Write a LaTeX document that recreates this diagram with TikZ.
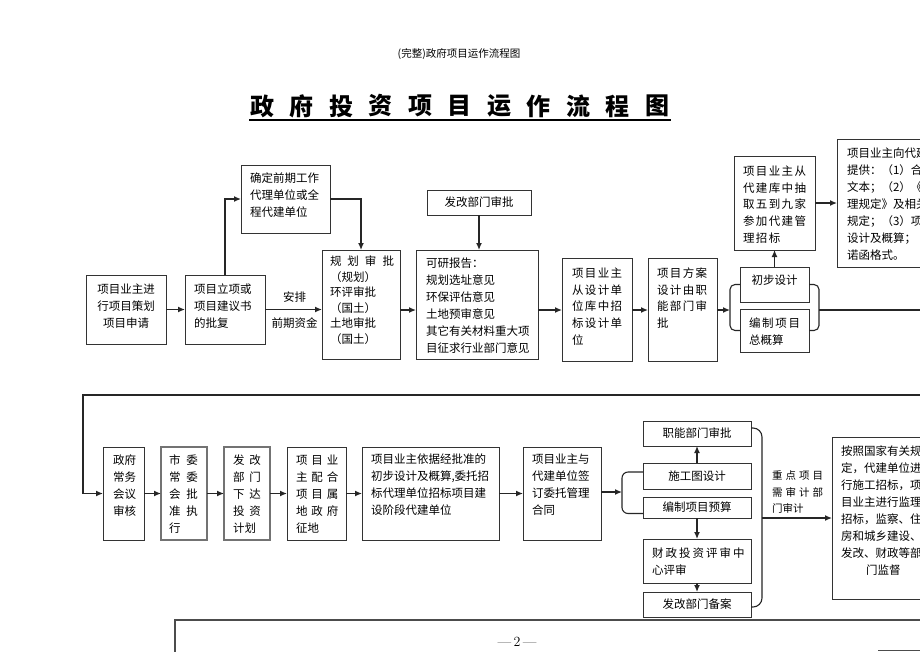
\documentclass[tikz,border=0pt]{standalone}
\usepackage{fontspec}
\newfontfamily\cjk{Noto Sans CJK SC}
\newfontfamily\cjkw{Noto Sans CJK SC}[LetterSpace=12]
\usetikzlibrary{arrows.meta,calc}
\newcommand\hsp[1]{\hspace*{#1pt}}
\newcommand\bx[6][]{\pgfmathsetmacro\bxw{#5-#3}\pgfmathsetmacro\bxh{#6-#4}%
  \node[box,#1,minimum width=\bxw pt,minimum height=\bxh pt,anchor=north west] (#2) at (#3,#4) {};}
\newcommand\tx[5][]{\node[txt,#1] (#2) at (#3,#4) {#5};}
\begin{document}
\begin{tikzpicture}[x=1pt,y=-1pt,
  box/.style={draw=black!80, line width=1pt, inner sep=0pt, outer sep=0pt},
  txt/.style={inner sep=0pt, outer sep=0pt, align=left, anchor=north west, font=\cjk\fontsize{11.5}{17}\selectfont},
  ctxt/.style={inner sep=0pt, outer sep=0pt, align=center, font=\cjk\fontsize{11.5}{17}\selectfont},
  arr/.style={draw=black!85, line width=1.3pt, -{Latex[length=7pt,width=6pt]}},
  ln/.style={draw=black!85, line width=1.1pt},
  grey/.style={draw=black!55, line width=1.6pt}
]
\useasboundingbox (0,0) rectangle (920,651);
\clip (0,0) rectangle (920,651);
\fill[white] (0,0) rectangle (920,651);

% header and title
\node[inner sep=0pt, font=\cjk\fontsize{10.5}{12}\selectfont] (hd) at (459,54) {(完整)政府项目运作流程图};
\foreach \c [count=\i] in {政,府,投,资,项,目,运,作,流,程,图}
  \node[inner sep=0pt, font=\cjk\bfseries\fontsize{24}{24}\selectfont] (t\i) at ({262.4+39.5*(\i-1)},106) {\c};
\draw[line width=1.8pt] (249,120) -- (671,120);

% ---------- row 1 boxes ----------
\bx{A}{86}{275}{166}{344}
\node[ctxt] (At) at ([yshift=3.5pt]A.center) {项目业主进\\行项目策划\\项目申请};
\bx{B}{185}{275}{265}{344}
\tx{Bt}{194}{283.7}{项目立项或\\项目建议书\\的批复}
\bx{C}{241}{165}{330}{233}
\tx{Ct}{250}{172.7}{确定前期工作\\代理单位或全\\程代建单位}
\bx{D}{322}{250}{400}{359}
\tx[font=\cjk\fontsize{11.5}{15.6}\selectfont]{Dt}{330}{255.7}{规\hsp6划\hsp6审\hsp6批\\（规划）\\环评审批\\（国土）\\土地审批\\（国土）}
\bx{E}{416}{250}{538}{359}
\tx{Et}{426}{257.7}{可研报告：\\规划选址意见\\环保评估意见\\土地预审意见\\其它有关材料重大项\\目征求行业部门意见}
\bx{FG}{427}{190}{531}{215}
\node[ctxt] (FGt) at (FG.center) {发改部门审批};
\bx{F}{562}{258}{632}{361}
\tx[font=\cjkw\fontsize{11.5}{16.7}\selectfont]{Ft}{572}{267.7}{项目业主\\从设计单\\位库中招\\标设计单\\位}
\bx{G}{648}{258}{717}{361}
\tx[font=\cjkw\fontsize{11.5}{16.7}\selectfont]{Gt}{657}{267.7}{项目方案\\设计由职\\能部门审\\批}
\bx{H}{740}{267}{809}{302}
\node[ctxt] (Ht) at ([yshift=4pt]H.center) {初步设计};
\bx{I}{740}{309}{809}{352}
\tx{It}{749}{317.7}{编\hsp{1.7}制\hsp{1.7}项\hsp{1.7}目\\总概算}
\bx{J}{734}{156}{815}{250}
\tx[font=\cjkw\fontsize{11.5}{16.7}\selectfont]{Jt}{743}{165.7}{项目业主从\\代建库中抽\\取五到九家\\参加代建管\\理招标}
\bx{K}{837}{139}{1000}{267}
\tx{Kt}{847}{147.7}{项目业主向代建\\提供：（1）合同\\文本；（2）《XX\\理规定》及相关\\规定；（3）项目\\设计及概算；（4\\诺函格式。}

% ---------- row 1 connectors ----------
\coordinate (r1) at (0,310);
\coordinate (b1l) at (730,310);
\coordinate (b1r) at (819,310);
\draw[arr] (A.east) -- (B.west);
\draw[arr] (B.north) |- (C.west);
\draw[arr] (C.east) -| (D.north);
\draw[arr] (B.east) -- (B.east -| D.west);
\node[ctxt] (lb1) at (294.5,297) {安排};
\node[ctxt] (lb2) at (294.5,323) {前期资金};
\draw[arr] (D.east |- r1) -- (E.west |- r1);
\draw[arr] (FG.south) -- (FG.south |- E.north);
\draw[arr] (E.east |- r1) -- (F.west |- r1);
\draw[arr] (F.east |- r1) -- (G.west |- r1);
\draw[arr] (G.east |- r1) -- (b1l);
\draw[ln, rounded corners=5pt] (H.west) -| (b1l) |- (I.west);
\draw[ln, rounded corners=5pt] (H.east) -| (b1r) |- (I.east);
\draw[arr] (H.north) -- (J.south);
\draw[arr] (J.east) -- (J.east -| K.west);

% ---------- row 2 boxes ----------
\bx{L}{103}{447}{144}{540}
\tx{Lt}{113}{454.7}{政府\\常务\\会议\\审核}
\bx[grey]{M}{161}{447}{207}{540}
\tx{Mt}{169}{454.7}{市\hsp6委\\常\hsp6委\\会\hsp6批\\准\hsp6执\\行}
\bx[grey]{N}{224}{447}{270}{540}
\tx{Nt}{233}{454.7}{发\hsp5改\\部\hsp5门\\下\hsp5达\\投\hsp5资\\计划}
\bx{O}{287}{447}{346}{540}
\tx{Ot}{296}{454.7}{项\hsp4目\hsp4业\\主\hsp4配\hsp4合\\项\hsp4目\hsp4属\\地\hsp4政\hsp4府\\征地}
\bx{P}{362}{447}{499}{540}
\tx{Pt}{371}{453.7}{项目业主依据经批准的\\初步设计及概算,委托招\\标代理单位招标项目建\\设阶段代建单位}
\bx{Q}{523}{447}{601}{540}
\tx{Qt}{532}{453.7}{项目业主与\\代建单位签\\订委托管理\\合同}
\bx{ZN}{643}{421}{751}{446}
\node[ctxt] (ZNt) at (ZN.center) {职能部门审批};
\bx{SG}{643}{463}{751}{489}
\node[ctxt] (SGt) at (SG.center) {施工图设计};
\bx{YS}{643}{497}{751}{518}
\node[ctxt] (YSt) at (YS.center) {编制项目预算};
\bx{CZ}{643}{539}{751}{583}
\tx{CZt}{652}{547.7}{财\hsp2政\hsp2投\hsp2资\hsp2评\hsp2审\hsp2中\\心评审}
\bx{BA}{643}{592}{751}{617}
\node[ctxt] (BAt) at (BA.center) {发改部门备案};
\bx{R}{832}{437}{930}{599}
\tx{Rt}{841}{445.7}{按照国家有关规定\\定，代建单位进行\\行施工招标，项目\\目业主进行监理\\招标，监察、住房\\房和城乡建设、\\发改、财政等部门\\\hsp{25}门监督}
\tx[font=\cjk\fontsize{10.5}{16.5}\selectfont]{JDt}{772}{471}{重\hsp3点\hsp3项\hsp3目\\需\hsp3审\hsp3计\hsp3部\\门审计}

% ---------- row 2 connectors ----------
\coordinate (b2l) at (622,492);
\coordinate (b2r) at (762,518);
\draw[arr] (b1r) -- (945,310) |- (83,395) |- (L.west);
\draw[arr] (L.east) -- (M.west);
\draw[arr] (M.east) -- (N.west);
\draw[arr] (N.east) -- (O.west);
\draw[arr] (O.east) -- (P.west);
\draw[arr] (P.east) -- (Q.west);
\draw[arr] (Q.east |- b2l) -- (b2l);
\draw[ln, rounded corners=6pt] ([yshift=4pt]SG.west) -| (b2l) |- ([yshift=-6pt]YS.west);
\draw[arr] (SG.north) -- (ZN.south);
\draw[arr] (YS.south) -- (CZ.north);
\draw[arr] (CZ.south) -- (BA.north);
\draw[ln, rounded corners=9pt] ([yshift=5.5pt]ZN.east) -| (b2r) |- ([yshift=-2.5pt]BA.east);
\draw[arr] (b2r) -- (R.west |- b2r);

% ---------- page bottom ----------
\draw[draw=black!70, line width=1.6pt] (175,660) -- (175,620) -- (930,620);
\node[inner sep=0pt, font=\fontsize{14}{16}\selectfont] (pg) at (517,642) {---\,2\,---};
\draw[draw=black!70, line width=1pt] (878,650) -- (930,650);
\end{tikzpicture}
\end{document}
